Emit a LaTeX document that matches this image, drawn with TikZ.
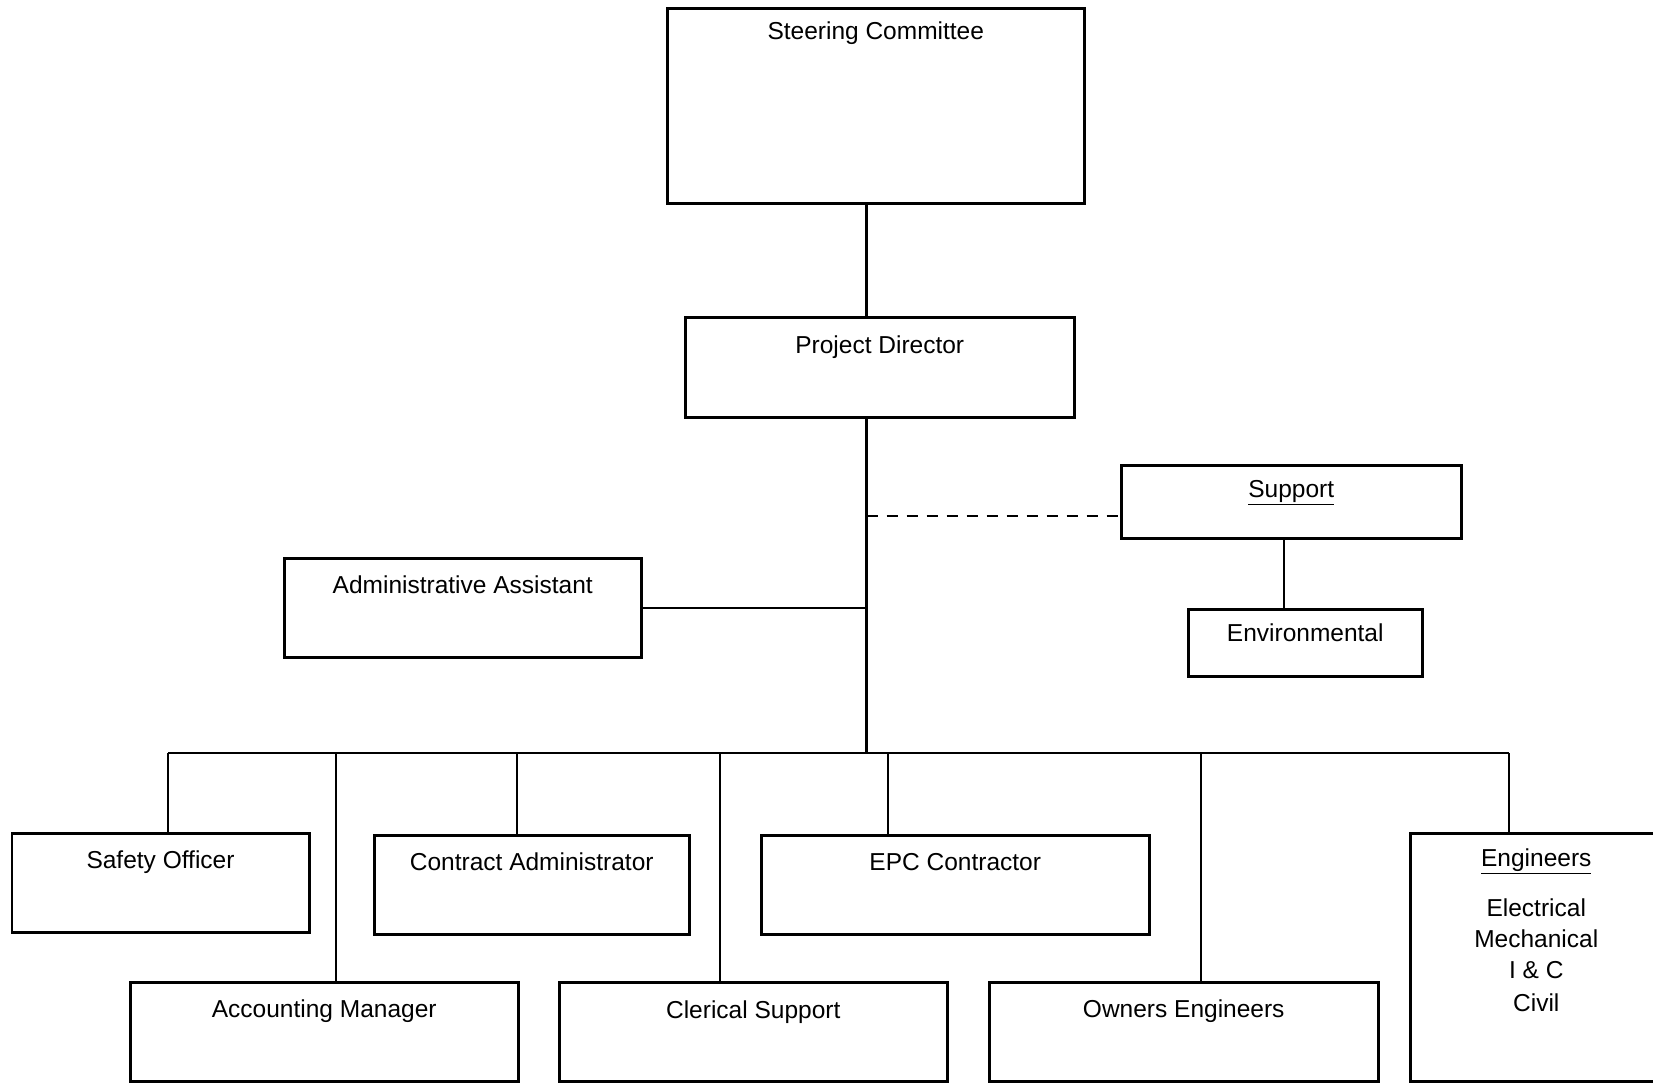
\documentclass[tikz,border=0pt]{standalone}
\usepackage{fontspec}
\setmainfont{Liberation Sans}
\begin{document}
\begin{tikzpicture}[x=1pt,y=-1pt,
  orgbox/.style args={#1/#2/#3}{draw=black, line width=2.5pt, inner sep=0pt, anchor=north west,
    minimum width=#1pt, text height=#2pt, text depth=#3pt, align=center},
  link/.style={line width=2.5pt},
  dashlink/.style={line width=2.5pt, dash pattern=on 11pt off 9pt}]
\useasboundingbox (0,0) rectangle (1653,1082);
\fontsize{24.5}{31}\selectfont
% boxes: width / baseline offset / rest of height
\node[orgbox=417/31/164]  (steer) at (666,7)    {Steering Committee};
\node[orgbox=389/36/64]   (pd)    at (684,316)  {Project Director};
\node[orgbox=340/32/41]   (sup)   at (1120,464) {\underline{Support}};
\node[orgbox=234/32/35]   (env)   at (1187,608) {Environmental};
\node[orgbox=357/35/64]   (adm)   at (283,557)  {Administrative Assistant};
\node[orgbox=297.5/35/64] (saf)   at (10.5,832) {Safety Officer};
\node[orgbox=315/35/64]   (con)   at (373,834)  {Contract Administrator};
\node[orgbox=388/35/64]   (epc)   at (760,834)  {EPC Contractor};
\node[orgbox=388/35/64]   (acc)   at (129,981)  {Accounting Manager};
\node[orgbox=388/36/63]   (cle)   at (558,981)  {Clerical Support};
\node[orgbox=389/35/64]   (own)   at (988,981)  {Owners Engineers};
\node[orgbox=252/33/215]  (eng)   at (1409,832)
  {\renewcommand\arraystretch{1}\begin{tabular}[t]{@{}c@{}}\underline{Engineers}\\[19pt]
   Electrical\\ Mechanical\\ I \& C\\[2pt] Civil\end{tabular}};
% trunk and junctions
\coordinate (trunk) at (866.5,753);
\coordinate (dj) at (866.5,516);
\coordinate (envx) at (1284,0);
\draw[link] (steer.south -| trunk) -- (pd.north -| trunk);
\draw[link] (pd.south -| trunk) -- (trunk);
\draw[dashlink] (dj) -- (dj -| sup.west);
\draw[link] (adm.east) -- (adm.east -| trunk);
\draw[link] (sup.south -| envx) -- (env.north -| envx);
% bus
\coordinate (bsaf) at (168,753);
\coordinate (bacc) at (336,753);
\coordinate (bcon) at (517,753);
\coordinate (bcle) at (720,753);
\coordinate (bepc) at (888,753);
\coordinate (bown) at (1201,753);
\coordinate (beng) at (1509,753);
\draw[link] (bsaf) -- (beng);
\draw[link] (bsaf) -- (bsaf |- saf.north);
\draw[link] (bacc) -- (bacc |- acc.north);
\draw[link] (bcon) -- (bcon |- con.north);
\draw[link] (bcle) -- (bcle |- cle.north);
\draw[link] (bepc) -- (bepc |- epc.north);
\draw[link] (bown) -- (bown |- own.north);
\draw[link] (beng) -- (beng |- eng.north);
\end{tikzpicture}
\end{document}
